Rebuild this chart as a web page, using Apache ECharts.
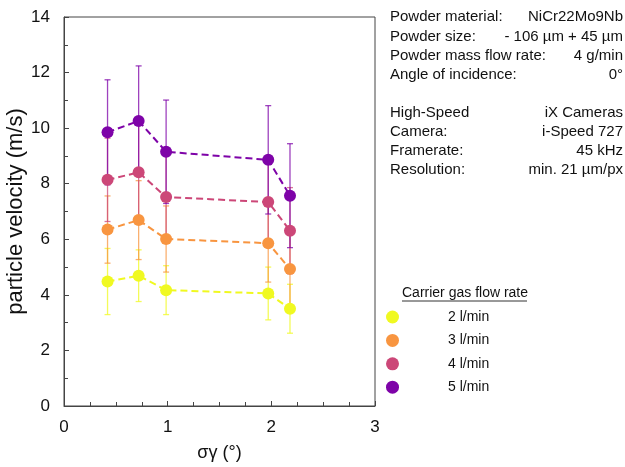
<!DOCTYPE html>
<html>
<head>
<meta charset="utf-8">
<script src="https://cdn.jsdelivr.net/npm/echarts@6/dist/echarts.min.js"></script>
<style>
  html, body { margin: 0; padding: 0; background: #fff; }
  #chart { width: 625px; height: 467px; }
</style>
</head>
<body>
<div id="chart"></div>
<script>
// Beam angle spread (deg) at each measurement
const sigmaGamma = [0.42, 0.72, 0.985, 1.97, 2.18];

// Carrier gas flow rates and their colours
const flowRates = ['2 l/min', '3 l/min', '4 l/min', '5 l/min'];
const flowColors = ['#f0f921', '#f89540', '#cc4778', '#7e03a8'];

// Mean particle velocity (m/s) per flow rate
const velocity2 = [4.48, 4.69, 4.17, 4.05, 3.50];
const velocity3 = [6.35, 6.69, 6.01, 5.86, 4.93];
const velocity4 = [8.14, 8.41, 7.52, 7.34, 6.31];
const velocity5 = [9.85, 10.26, 9.15, 8.86, 7.57];

// Standard deviation (m/s) per flow rate
const spread2 = [1.19, 0.93, 0.88, 0.95, 0.88];
const spread3 = [1.21, 1.42, 1.19, 1.40, 1.42];
const spread4 = [1.50, 1.74, 1.50, 1.50, 1.55];
const spread5 = [1.89, 1.98, 1.86, 1.95, 1.87];

// Axis ticks
const xTicks = { min: 0, max: 3, interval: 1 };
const yTicks = { min: 0, max: 14, interval: 2 };

// Measurement setup notes
const setupLabels = ['Powder material:', 'Powder size:', 'Powder mass flow rate:', 'Angle of incidence:',
                     'High-Speed', 'Camera:', 'Framerate:', 'Resolution:'];
const setupValues = ['NiCr22Mo9Nb', '- 106 µm + 45 µm', '4 g/min', '0°',
                     'iX Cameras', 'i-Speed 727', '45 kHz', 'min. 21 µm/px'];
const legendTitle = 'Carrier gas flow rate';

const velocities = [velocity2, velocity3, velocity4, velocity5];
const spreads = [spread2, spread3, spread4, spread5];
const FONT = '"Liberation Sans", Arial, sans-serif';

const chart = echarts.init(document.getElementById('chart'), null, { renderer: 'canvas' });

// Vertical ±1 sd bar with small caps
function errorBarItem(params, api) {
  const x = api.value(0), y = api.value(1), e = api.value(2);
  const top = api.coord([x, y + e]);
  const bot = api.coord([x, y - e]);
  const cap = 3;
  const style = { stroke: api.visual('color'), lineWidth: 1.3, opacity: 0.75 };
  return {
    type: 'group',
    children: [
      { type: 'line', shape: { x1: top[0], y1: top[1], x2: bot[0], y2: bot[1] }, style },
      { type: 'line', shape: { x1: top[0] - cap, y1: top[1], x2: top[0] + cap, y2: top[1] }, style },
      { type: 'line', shape: { x1: bot[0] - cap, y1: bot[1], x2: bot[0] + cap, y2: bot[1] }, style }
    ]
  };
}

const series = [];
flowRates.forEach((name, i) => {
  series.push({
    type: 'custom',
    name: name + ' sd',
    renderItem: errorBarItem,
    itemStyle: { color: flowColors[i] },
    data: sigmaGamma.map((x, k) => [x, velocities[i][k], spreads[i][k]]),
    encode: { x: 0, y: 1 },
    z: 1,
    silent: true
  });
});
flowRates.forEach((name, i) => {
  series.push({
    type: 'line',
    name: name,
    data: sigmaGamma.map((x, k) => [x, velocities[i][k]]),
    symbol: 'circle',
    symbolSize: 12,
    itemStyle: { color: flowColors[i], borderWidth: 0 },
    lineStyle: { color: flowColors[i], width: 2, type: [7, 4] },
    z: 3,
    animation: false
  });
});

const graphics = [];
const lineY = [18, 38, 57, 76, 114, 133, 152, 171];
setupLabels.forEach((t, i) => {
  graphics.push({ type: 'text', left: 390, top: lineY[i] - 9,
    style: { text: t, font: '15px ' + FONT, fill: '#111' } });
  graphics.push({ type: 'text', right: 2, top: lineY[i] - 9,
    style: { text: setupValues[i], font: '15px ' + FONT, fill: '#111', align: 'right' } });
});
graphics.push({ type: 'text', left: 402, top: 286,
  style: { text: legendTitle, font: '14px ' + FONT, fill: '#111' } });
graphics.push({ type: 'line', shape: { x1: 402, y1: 301, x2: 527, y2: 301 },
  style: { stroke: '#333', lineWidth: 1 } });

const axisCommon = {
  axisLine: { show: true, lineStyle: { color: '#444', width: 1 } },
  axisTick: { show: true, inside: true, length: 5, lineStyle: { color: '#444' } },
  minorTick: { show: true, length: 4, lineStyle: { color: '#444' } },
  splitLine: { show: false },
  axisLabel: { color: '#111', fontSize: 17, fontFamily: FONT },
  nameTextStyle: { color: '#111', fontSize: 18, fontFamily: FONT }
};

chart.setOption({
  animation: false,
  backgroundColor: '#fff',
  grid: { left: 64, right: 250, top: 17, bottom: 56, show: true, borderColor: '#444', borderWidth: 1, containLabel: false },
  xAxis: Object.assign({}, axisCommon, {
    type: 'value', min: xTicks.min, max: xTicks.max, interval: xTicks.interval,
    minorTick: Object.assign({}, axisCommon.minorTick, { splitNumber: 4 }),
    name: 'σγ (°)', nameLocation: 'middle', nameGap: 38,
    axisLabel: Object.assign({}, axisCommon.axisLabel, { margin: 13 })
  }),
  yAxis: Object.assign({}, axisCommon, {
    type: 'value', min: yTicks.min, max: yTicks.max, interval: yTicks.interval,
    minorTick: Object.assign({}, axisCommon.minorTick, { splitNumber: 2 }),
    name: 'particle velocity (m/s)', nameLocation: 'middle', nameGap: 32, nameRotate: 90,
    nameTextStyle: { color: '#111', fontSize: 22, fontFamily: FONT },
    axisLabel: Object.assign({}, axisCommon.axisLabel, { margin: 14 })
  }),
  legend: {
    data: flowRates,
    orient: 'vertical',
    left: 381, top: 305,
    icon: 'circle',
    itemWidth: 13, itemHeight: 13, itemGap: 9.4,
    textStyle: { color: '#111', fontSize: 14, fontFamily: FONT, padding: [0, 0, 0, 44] },
    selectedMode: false
  },
  graphic: graphics,
  series: series
});
</script>
</body>
</html>
